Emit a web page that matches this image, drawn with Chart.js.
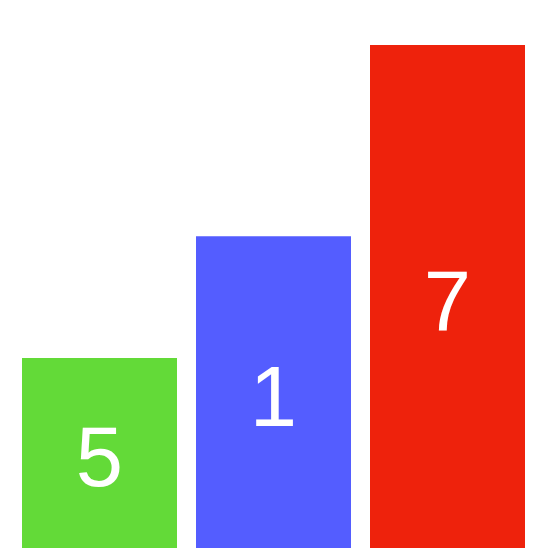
<!DOCTYPE html>
<html>
<head>
<meta charset="utf-8">
<script src="https://cdn.jsdelivr.net/npm/chart.js@4"></script>
<style>
html,body{margin:0;padding:0;background:#fff;}
canvas{display:block;}
</style>
</head>
<body>
<canvas id="c" width="547" height="548"></canvas>
<script>
const categories = ['5', '1', '7'];
const values = [3.02, 4.96, 8];
const barColors = ['#63DA38', '#545DFF', '#EE220C'];

const labelPlugin = {
  id: 'barLabels',
  afterDatasetsDraw(chart) {
    const ctx = chart.ctx;
    const meta = chart.getDatasetMeta(0);
    ctx.save();
    ctx.fillStyle = '#ffffff';
    ctx.font = '85px "Liberation Sans", Arial, Helvetica, sans-serif';
    ctx.textAlign = 'center';
    ctx.textBaseline = 'middle';
    meta.data.forEach((bar, i) => {
      const cy = (bar.y + bar.base) / 2;
      ctx.fillText(categories[i], bar.x, cy + 10);
    });
    ctx.restore();
  }
};

new Chart(document.getElementById('c'), {
  type: 'bar',
  data: {
    labels: categories,
    datasets: [{
      data: values,
      backgroundColor: barColors,
      borderWidth: 0,
      barPercentage: 1,
      categoryPercentage: 155 / 174
    }]
  },
  options: {
    responsive: false,
    animation: false,
    layout: { padding: { top: 45, left: 12.5, right: 12.5, bottom: 0 } },
    plugins: { legend: { display: false }, tooltip: { enabled: false } },
    scales: {
      x: { display: false },
      y: { display: false, min: 0, max: 8 }
    }
  },
  plugins: [labelPlugin]
});
</script>
</body>
</html>
